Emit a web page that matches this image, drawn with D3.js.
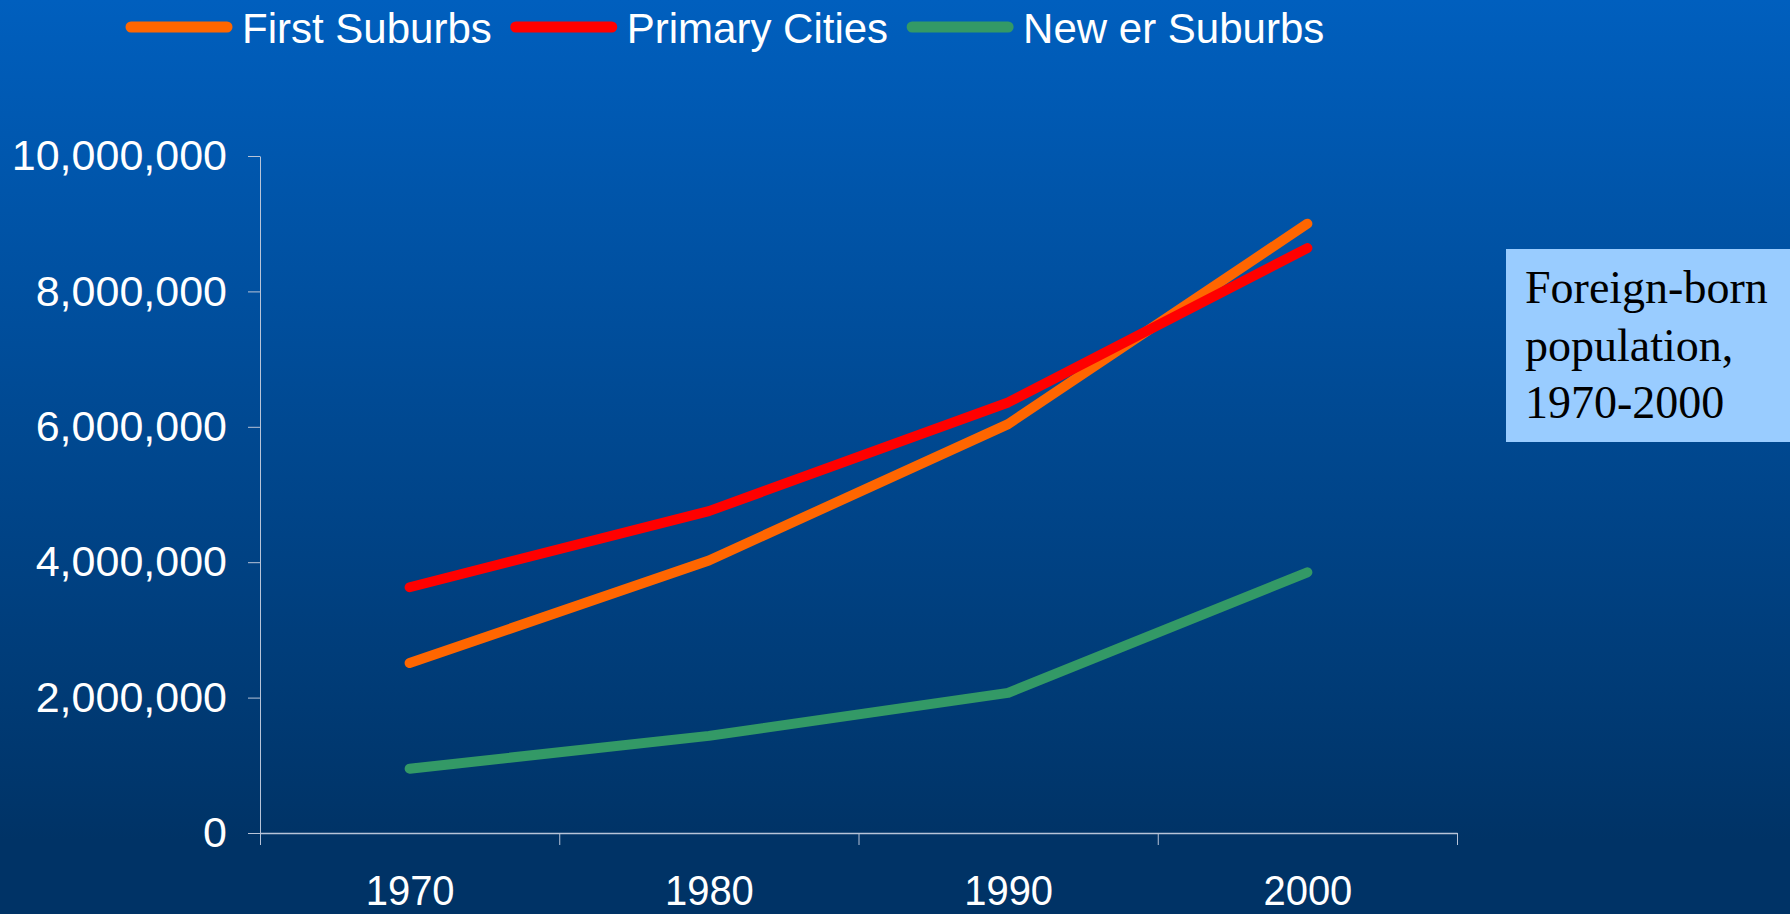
<!DOCTYPE html>
<html>
<head>
<meta charset="utf-8">
<script src="https://cdn.jsdelivr.net/npm/d3@7"></script>
<style>
  body { margin: 0; overflow: hidden; }
  .axis path, .axis line { stroke: #b8c4d8; }
  .axis text { fill: #ffffff; font-family: "Liberation Sans", Arial, sans-serif; }
</style>
</head>
<body>
<svg class="chart"></svg>
<script>
var years = [1970, 1980, 1990, 2000];
var firstSuburbs = [2510000, 4025000, 6040000, 9000000];
var primaryCities = [3630000, 4755000, 6360000, 8640000];
var newerSuburbs = [950000, 1435000, 2070000, 3850000];
var seriesNames = ["First Suburbs", "Primary Cities", "New er Suburbs"];
var yTicks = [0, 2000000, 4000000, 6000000, 8000000, 10000000];
var noteLines = ["Foreign-born", "population,", "1970-2000"];

(function () {
  var width = 1790;
  var height = 914;
  var colors = ["#ff6600", "#ff0000", "#339966"];
  var series = [firstSuburbs, primaryCities, newerSuburbs];

  var svg = d3.select(".chart")
      .attr("width", width)
      .attr("height", height);

  var grad = svg.append("defs").append("linearGradient")
      .attr("id", "bg")
      .attr("x1", 0).attr("y1", 0)
      .attr("x2", 0).attr("y2", 1);
  grad.append("stop").attr("offset", "0%").attr("stop-color", "#005fbe");
  grad.append("stop").attr("offset", "92%").attr("stop-color", "#003366");
  grad.append("stop").attr("offset", "100%").attr("stop-color", "#003366");

  svg.append("rect")
      .attr("width", width)
      .attr("height", height)
      .style("fill", "url(#bg)");

  // plot area in page pixels
  var left = 260, right = 1457, top = 156, bottom = 833;

  // boundaries sit half a decade either side of each year
  var xscale = d3.scaleLinear()
      .domain([years[0] - 5, years[years.length - 1] + 5])
      .range([left, right]);

  var yscale = d3.scaleLinear()
      .domain([0, 10000000])
      .range([bottom, top]);

  var bounds = years.map(function(d) { return d - 5; }).concat([years[years.length - 1] + 5]);

  var xticks = d3.axisBottom(xscale)
      .tickValues(bounds)
      .tickFormat("")
      .tickSizeInner(12)
      .tickSizeOuter(0);
  svg.append("g")
      .attr("class", "axis")
      .attr("transform", "translate(0," + bottom + ")")
      .call(xticks)
      .call(function(g) { g.select(".domain").style("stroke-width", 1.6); });

  var xlabels = d3.axisBottom(xscale)
      .tickValues(years)
      .tickFormat(d3.format("d"))
      .tickSize(0)
      .tickPadding(41);
  svg.append("g")
      .attr("class", "axis")
      .attr("transform", "translate(0," + bottom + ")")
      .call(xlabels)
      .call(function(g) {
        g.select(".domain").remove();
        g.selectAll("text")
            .style("font-size", "43px")
            .attr("transform", "scale(0.93,1)");
      });

  var yaxis = d3.axisLeft(yscale)
      .tickValues(yTicks)
      .tickFormat(d3.format(","))
      .tickSizeInner(12)
      .tickSizeOuter(0)
      .tickPadding(21);
  svg.append("g")
      .attr("class", "axis")
      .attr("transform", "translate(" + left + ",0)")
      .call(yaxis)
      .call(function(g) { g.selectAll("text").style("font-size", "43px"); });

  var line = d3.line()
      .x(function(d, i) { return xscale(years[i]); })
      .y(function(d) { return yscale(d); });

  svg.selectAll("path.series")
      .data(series)
      .enter().append("path")
      .attr("class", "series")
      .attr("d", line)
      .style("fill", "none")
      .style("stroke", function(d, i) { return colors[i]; })
      .style("stroke-width", 10)
      .style("stroke-linecap", "round")
      .style("stroke-linejoin", "round");

  // legend across the top
  var lx = 131;
  var ly = 27;
  seriesNames.forEach(function(name, i) {
    svg.append("line")
        .attr("x1", lx).attr("x2", lx + 96)
        .attr("y1", ly).attr("y2", ly)
        .style("stroke", colors[i])
        .style("stroke-width", 11)
        .style("stroke-linecap", "round");
    var t = svg.append("text")
        .attr("x", lx + 111)
        .attr("y", 43)
        .style("fill", "#ffffff")
        .style("font-family", "'Liberation Sans', Arial, sans-serif")
        .style("font-size", "42px")
        .text(name);
    lx = lx + 111 + t.node().getComputedTextLength() + 24;
  });

  // note box at the right
  svg.append("rect")
      .attr("x", 1506)
      .attr("y", 249)
      .attr("width", 300)
      .attr("height", 193)
      .style("fill", "#99ccff");

  svg.selectAll("text.note")
      .data(noteLines)
      .enter().append("text")
      .attr("class", "note")
      .attr("x", 1525)
      .attr("y", function(d, i) { return 303 + i * 57.5; })
      .style("fill", "#000000")
      .style("font-family", "'Liberation Serif', 'Times New Roman', serif")
      .style("font-size", "46px")
      .text(function(d) { return d; });
})();
</script>
</body>
</html>
